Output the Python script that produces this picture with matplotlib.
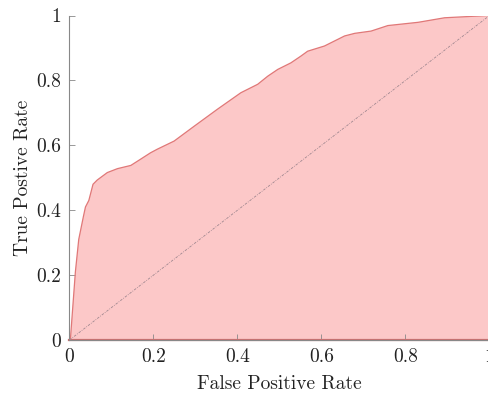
import matplotlib
matplotlib.use("Agg")
import matplotlib.pyplot as plt

# ROC curve (false positive rate, true positive rate)
fpr = [0.0, 0.002, 0.008, 0.014, 0.022, 0.033, 0.038, 0.046, 0.056, 0.066,
       0.090, 0.114, 0.146, 0.169, 0.193, 0.209, 0.233, 0.249, 0.297, 0.352,
       0.408, 0.448, 0.472, 0.496, 0.527, 0.551, 0.567, 0.607, 0.655, 0.679,
       0.718, 0.758, 0.830, 0.893, 0.997, 1.0]
tpr = [0.0, 0.0, 0.105, 0.21, 0.31, 0.38, 0.41, 0.43, 0.48, 0.493,
       0.516, 0.528, 0.538, 0.557, 0.577, 0.588, 0.603, 0.613, 0.659, 0.711,
       0.762, 0.788, 0.813, 0.834, 0.854, 0.875, 0.89, 0.906, 0.937, 0.945,
       0.952, 0.969, 0.979, 0.993, 1.0, 1.0]

xticks = [0, 0.2, 0.4, 0.6, 0.8, 1]
yticks = [0, 0.2, 0.4, 0.6, 0.8, 1]
tick_labels = ["0", "0.2", "0.4", "0.6", "0.8", "1"]

plt.rcParams["font.family"] = ["cmr10", "DejaVu Serif"]
plt.rcParams["axes.formatter.use_mathtext"] = True

fig = plt.figure(figsize=(4.89, 3.95), dpi=100)
ax = fig.add_axes([69.5 / 489, 55 / 395, 420 / 489, 324.5 / 395])

ax.fill_between(fpr, tpr, 0, facecolor="#fcc8c8", edgecolor="none", zorder=1)
ax.plot(fpr, tpr, color="#e07878", lw=0.9, zorder=2)
ax.plot([0, 1], [0, 0], color="#c87070", lw=1.6, zorder=2, clip_on=False)
ax.plot([0, 1], [0, 1], color="#a08890", lw=0.6, ls=(0, (3, 1.5, 1, 1.5)), zorder=3)

ax.set_xlim(0, 1)
ax.set_ylim(0, 1)
ax.set_xticks(xticks)
ax.set_xticklabels(tick_labels)
ax.set_yticks(yticks)
ax.set_yticklabels(tick_labels)

for side in ("top", "right"):
    ax.spines[side].set_visible(False)
ax.spines["left"].set_color("#888888")
ax.spines["left"].set_linewidth(0.8)
ax.spines["bottom"].set_color("#888888")
ax.spines["bottom"].set_linewidth(0.8)
ax.tick_params(direction="in", length=4, width=0.6, color="#888888",
               labelsize=14, labelcolor="#222222", pad=6)

ax.set_xlabel("False Positive Rate", fontsize=14, color="#222222", labelpad=6)
ax.set_ylabel("True Postive Rate", fontsize=14, color="#222222", labelpad=3)

fig.savefig("out.png", dpi=100)
